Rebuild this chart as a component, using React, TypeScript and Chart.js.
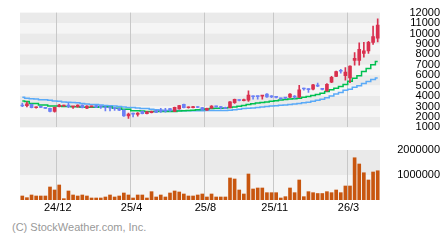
import React, { useEffect, useRef } from 'react';
import { Chart, registerables } from 'chart.js';

Chart.register(...registerables);

// ---- data (weekly candles) ----
const opens = [
  3140, 3080, 3200, 2880, 2940, 2860, 2830, 2530, 2990, 3050,
  3140, 2960, 2960, 3140, 2840, 2970, 3080, 3000, 2920, 2900,
  2840, 2830, 2650, 2100, 2300, 2250, 2530, 2310, 2400, 2620,
  2680, 2650, 2740, 2530, 2780, 3200, 2880, 2900, 2950, 2900,
  2650, 2840, 3010, 2990, 2900, 2890, 3380, 3620, 3560, 3600,
  3980, 3980, 3990, 4200, 4000, 3930, 3780, 3840, 3900, 4000,
  3900, 4740, 4700, 4670, 5000, 4700, 4510, 5340, 5890, 6430,
  5950, 5740, 7420, 7420, 8090, 8330, 9150, 9550,
];
const highs = [
  3320, 3440, 3230, 2960, 3050, 2900, 2860, 2950, 3200, 3150,
  3350, 3020, 3170, 3170, 3080, 3050, 3110, 3020, 2990, 2920,
  2860, 2850, 2700, 2380, 2380, 2410, 2560, 2530, 2560, 2650,
  2830, 2830, 2830, 2950, 3110, 3230, 2960, 3020, 2990, 2920,
  2860, 3080, 3050, 3020, 2950, 3480, 3720, 3660, 3720, 4500,
  4020, 4000, 4070, 4230, 4050, 3960, 3800, 3870, 4230, 4050,
  5030, 4760, 4720, 5130, 5250, 4750, 5200, 5900, 6400, 6560,
  6740, 6900, 8180, 9100, 9160, 9250, 10700, 11400,
];
const lows = [
  2990, 2960, 2870, 2850, 2880, 2800, 2480, 2470, 2960, 3000,
  2900, 2830, 2930, 2870, 2800, 2950, 2900, 2830, 2590, 2590,
  2620, 2600, 2050, 1850, 2010, 2070, 2290, 2280, 2380, 2420,
  2440, 2470, 2530, 2500, 2750, 2870, 2850, 2870, 2890, 2650,
  2620, 2810, 2930, 2770, 2800, 2860, 3300, 3540, 3530, 3500,
  3700, 3700, 3700, 3880, 3850, 3820, 3700, 3760, 3860, 3780,
  3850, 4560, 4360, 4600, 4900, 4600, 4450, 5280, 5850, 6200,
  5520, 5280, 6960, 6960, 7720, 8100, 8950, 9200,
];
const closes = [
  3050, 3260, 2900, 2910, 2920, 2830, 2530, 2920, 3140, 3090,
  2990, 2990, 3140, 2900, 3050, 3000, 2930, 2970, 2880, 2870,
  2800, 2650, 2100, 2280, 2270, 2380, 2310, 2500, 2530, 2440,
  2530, 2560, 2710, 2920, 3080, 2900, 2930, 2990, 2910, 2700,
  2830, 3050, 2960, 2900, 2830, 3440, 3680, 3580, 3590, 4100,
  3940, 3950, 4050, 3930, 3930, 3880, 3740, 3800, 4200, 3900,
  4600, 4680, 4620, 5090, 4950, 4650, 5120, 5800, 6350, 6380,
  6290, 6870, 7630, 8490, 8330, 9160, 9700, 10800,
];
const maShort = [
  3540, 3480, 3300, 3300, 3140, 3140, 3050, 3050, 3050, 3000,
  3000, 2990, 2990, 2930, 2930, 2930, 2930, 2990, 2990, 2950,
  2830, 2830, 2740, 2740, 2590, 2590, 2560, 2530, 2530, 2530,
  2530, 2530, 2530, 2530, 2560, 2590, 2620, 2650, 2680, 2720,
  2760, 2800, 2830, 2830, 2860, 2900, 2960, 3030, 3100, 3200,
  3270, 3330, 3380, 3440, 3500, 3560, 3620, 3680, 3720, 3750,
  3800, 3880, 3960, 4060, 4150, 4270, 4450, 4600, 4750, 4920,
  5100, 5430, 5700, 5950, 6350, 6650, 7000, 7325,
];
const maLong = [
  3900, 3800, 3750, 3720, 3660, 3660, 3600, 3540, 3500, 3440,
  3420, 3380, 3350, 3300, 3250, 3200, 3200, 3150, 3100, 3080,
  3050, 3000, 2950, 2900, 2900, 2850, 2800, 2800, 2750, 2700,
  2650, 2620, 2620, 2620, 2620, 2600, 2600, 2590, 2590, 2600,
  2620, 2620, 2620, 2620, 2620, 2650, 2700, 2750, 2800, 2830,
  2870, 2900, 2950, 3000, 3050, 3080, 3120, 3150, 3200, 3250,
  3300, 3350, 3420, 3500, 3600, 3700, 3850, 4000, 4200, 4350,
  4550, 4650, 4850, 5000, 5200, 5400, 5580, 5740,
];
const volumes = [
  160000, 93000, 200000, 160000, 160000, 160000, 520000, 400000, 600000, 53000,
  360000, 200000, 160000, 200000, 160000, 80000, 80000, 80000, 120000, 200000,
  120000, 160000, 280000, 200000, 80000, 200000, 200000, 80000, 333000, 120000,
  200000, 120000, 280000, 360000, 320000, 240000, 160000, 160000, 200000, 240000,
  120000, 240000, 120000, 120000, 120000, 880000, 840000, 400000, 240000, 1040000,
  440000, 480000, 480000, 293000, 293000, 293000, 80000, 133000, 480000, 293000,
  800000, 133000, 333000, 293000, 260000, 260000, 333000, 293000, 400000, 293000,
  560000, 560000, 1690000, 1440000, 1090000, 800000, 1120000, 1170000,
];
const monthLabels: Record<number, string> = {
  8: '24/12',
  24: '25/4',
  40: '25/8',
  55: '25/11',
  71: '26/3',
};
const priceTicks = [1000, 2000, 3000, 4000, 5000, 6000, 7000, 8000, 9000, 10000, 11000, 12000];
const volumeTicks = [0, 1000000, 2000000];
const copyright = '(C) StockWeather.com, Inc.';

const categories = opens.map((_, i) => monthLabels[i] ?? '');

const UP = '#d9304f';
const DOWN = '#6b80f5';
const FONT = '"Liberation Sans", Arial, sans-serif';

const bandsPlugin = {
  id: 'bands',
  beforeDraw(chart: any) {
    const { ctx, chartArea } = chart;
    const y = chart.scales.y;
    const vals = y.ticks.map((t: any) => t.value).sort((a: number, b: number) => b - a);
    ctx.save();
    for (let j = 0; j < vals.length - 1; j++) {
      const top = y.getPixelForValue(vals[j]);
      const bot = y.getPixelForValue(vals[j + 1]);
      ctx.fillStyle = j % 2 === 0 ? '#eaeaea' : '#f5f5f5';
      ctx.fillRect(chartArea.left, top, chartArea.right - chartArea.left, bot - top);
    }
    ctx.restore();
  },
};

const gridColor = (ctx: any) => (categories[ctx.index] ? '#c8c8c8' : 'rgba(0,0,0,0)');

export default function App() {
  const priceRef = useRef<HTMLCanvasElement>(null);
  const volRef = useRef<HTMLCanvasElement>(null);

  useEffect(() => {
    Chart.defaults.font.family = FONT;
    Chart.defaults.font.size = 11;
    Chart.defaults.color = '#000';

    const colors = opens.map((o, i) => (closes[i] >= o ? UP : DOWN));
    const wickData = lows.map((l, i) => [l, highs[i]]);
    const bodyData = opens.map((o, i) => [o, closes[i]]);

    const price = new Chart(priceRef.current!, {
      type: 'bar',
      data: {
        labels: categories,
        datasets: [
          {
            type: 'bar',
            data: bodyData as any,
            backgroundColor: colors,
            barThickness: 3,
            minBarLength: 1,
            grouped: false,
            order: 0,
          } as any,
          {
            type: 'bar',
            data: wickData as any,
            backgroundColor: colors,
            barThickness: 1,
            grouped: false,
            order: 1,
          } as any,
          {
            type: 'line',
            data: maShort,
            borderColor: '#00c050',
            borderWidth: 1.5,
            pointRadius: 0,
            stepped: 'middle',
            order: 2,
          } as any,
          {
            type: 'line',
            data: maLong,
            borderColor: '#5aaaf8',
            borderWidth: 1.5,
            pointRadius: 0,
            stepped: 'middle',
            order: 3,
          } as any,
        ],
      },
      options: {
        responsive: false,
        animation: false,
        layout: { padding: { left: 20, top: 10, bottom: 10, right: 0 } },
        plugins: { legend: { display: false }, tooltip: { enabled: false } },
        scales: {
          x: {
            grid: { offset: true, drawTicks: false, color: gridColor, lineWidth: 1 },
            border: { display: false },
            ticks: { display: false, autoSkip: false },
            afterFit: (s: any) => {
              s.height = 0;
            },
          },
          y: {
            position: 'right',
            min: 1000,
            max: 12000,
            afterBuildTicks: (s: any) => {
              s.ticks = priceTicks.map((v) => ({ value: v }));
            },
            grid: { display: false },
            border: { display: false },
            ticks: {
              autoSkip: false,
              crossAlign: 'far',
              padding: 6,
              color: '#000',
              font: { size: 11, family: FONT },
              callback: (v: any) => String(v),
            },
            afterFit: (s: any) => {
              s.width = 60;
            },
          },
        },
      } as any,
      plugins: [bandsPlugin],
    });

    const vol = new Chart(volRef.current!, {
      type: 'bar',
      data: {
        labels: categories,
        datasets: [
          {
            data: volumes,
            backgroundColor: '#c8560f',
            barThickness: 3,
          },
        ],
      },
      options: {
        responsive: false,
        animation: false,
        layout: { padding: { left: 20, top: 10, bottom: 0, right: 0 } },
        plugins: { legend: { display: false }, tooltip: { enabled: false } },
        scales: {
          x: {
            grid: { offset: true, drawTicks: false, color: gridColor, lineWidth: 1 },
            border: { display: false },
            ticks: {
              autoSkip: false,
              maxRotation: 0,
              minRotation: 0,
              padding: 1,
              labelOffset: -1.5,
              color: '#000',
              font: { size: 11, family: FONT },
            },
            afterFit: (s: any) => {
              s.height = 20;
            },
          },
          y: {
            position: 'right',
            min: 0,
            max: 2000000,
            afterBuildTicks: (s: any) => {
              s.ticks = volumeTicks.map((v) => ({ value: v }));
            },
            grid: { display: false },
            border: { display: false },
            ticks: {
              autoSkip: false,
              crossAlign: 'far',
              padding: 3,
              color: '#000',
              font: { size: 11, family: FONT },
              callback: (v: any) => (v === 0 ? '' : String(v)),
            },
            afterFit: (s: any) => {
              s.width = 60;
            },
          },
        },
      } as any,
      plugins: [bandsPlugin],
    });

    return () => {
      price.destroy();
      vol.destroy();
    };
  }, []);

  return (
    <div
      style={{
        position: 'absolute',
        left: 0,
        top: 0,
        width: 440,
        height: 240,
        background: '#fff',
        overflow: 'hidden',
      }}
    >
      <canvas
        ref={priceRef}
        width={440}
        height={140}
        style={{ position: 'absolute', left: 0, top: 0, width: 440, height: 140 }}
      />
      <canvas
        ref={volRef}
        width={440}
        height={80}
        style={{ position: 'absolute', left: 0, top: 140, width: 440, height: 80 }}
      />
      <div
        style={{
          position: 'absolute',
          left: 12,
          top: 220,
          fontFamily: FONT,
          fontSize: 11,
          lineHeight: '14px',
          color: '#999',
          whiteSpace: 'nowrap',
        }}
      >
        {copyright}
      </div>
    </div>
  );
}
